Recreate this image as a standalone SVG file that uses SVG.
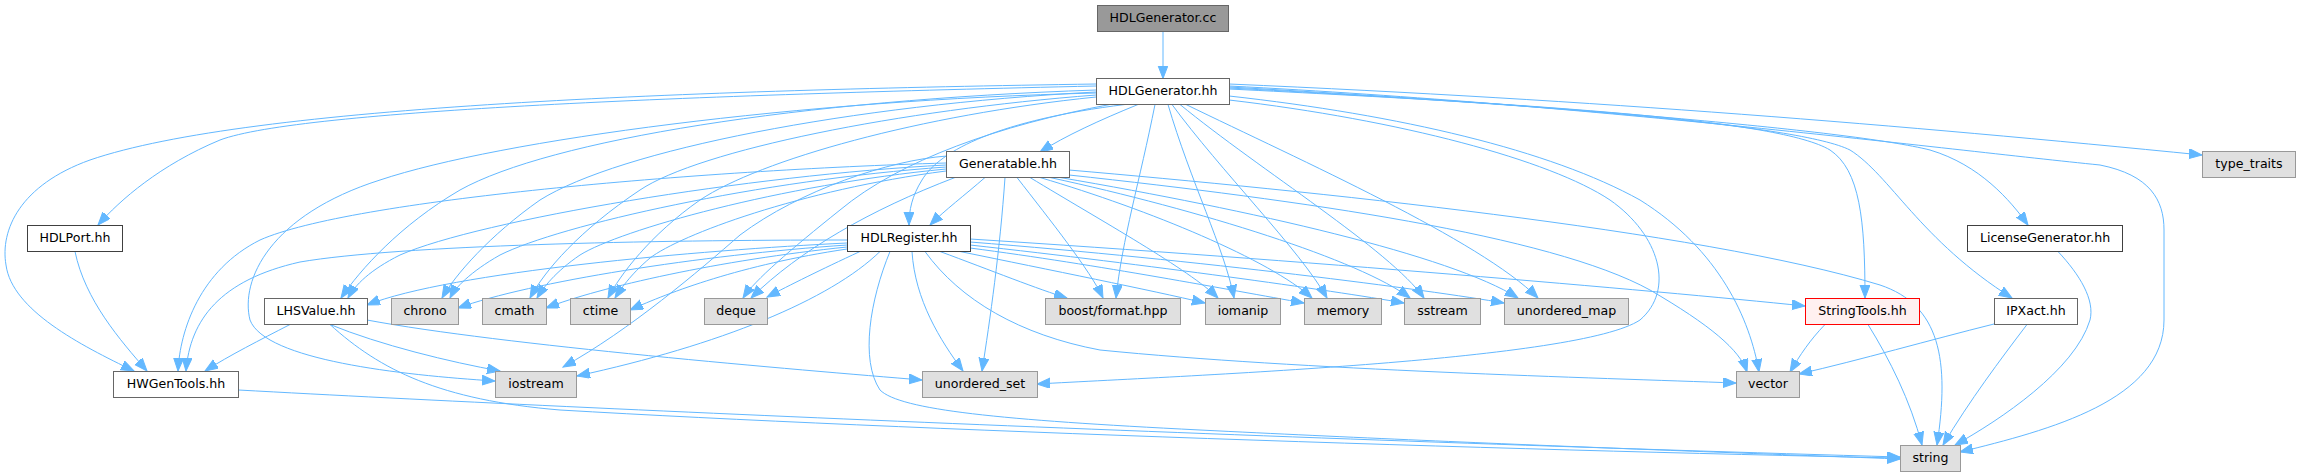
<svg xmlns="http://www.w3.org/2000/svg" width="2301" height="476" viewBox="0 0 2301 476">
<style>
.w{fill:#ffffff;stroke:#666666;stroke-width:1}
.d{fill:#ffffff;stroke:#404040;stroke-width:1}
.g{fill:#e0e0e0;stroke:#999999;stroke-width:1}
.r{fill:#fff0f0;stroke:#ff0000;stroke-width:1}
.root{fill:#999999;stroke:#666666;stroke-width:1}
text{font-family:"DejaVu Sans","Liberation Sans",sans-serif;font-size:12.6px;text-anchor:middle;fill:#000000}
#edges path{fill:none;stroke:#63b8ff;stroke-width:1;marker-end:url(#ah)}
</style>
<defs>
<marker id="ah" markerUnits="userSpaceOnUse" markerWidth="14" markerHeight="11" refX="13" refY="5" orient="auto">
<path d="M0,0 L13,5 L0,10 Z" fill="#63b8ff" stroke="#63b8ff" stroke-width="1"/>
</marker>
</defs>
<rect width="2301" height="476" fill="#ffffff"/>
<g id="edges">
<path d="M1163,31.5 L1163,78.5"/>
<!-- HDLGenerator.hh -->
<path d="M1138,104.5 C1100,120 1065,136 1040,152"/>
<path d="M1125,104.5 C1000,120 940,150 922,180 C912,196 909,210 909,225"/>
<path d="M1096,86 C700,95 300,110 220,140 C160,165 120,200 98,225"/>
<path d="M1096,84 C700,90 250,105 90,160 C20,185 0,230 6,265 C12,310 80,345 134,371"/>
<path d="M1096,90 C800,100 550,140 460,190 C400,225 360,270 341,298"/>
<path d="M1096,92 C850,105 620,150 540,200 C490,235 455,275 442,298"/>
<path d="M1096,95 C900,110 700,150 640,190 C580,230 545,270 530,298"/>
<path d="M1096,97 C920,115 760,160 700,200 C650,235 620,275 608,298"/>
<path d="M1096,93 C800,100 500,140 380,180 C270,215 240,280 250,320 C265,360 400,375 495,381"/>
<path d="M1110,104.5 C1000,125 900,160 840,210 C790,250 755,280 743,298"/>
<path d="M1155,104.5 C1140,180 1122,240 1116,298"/>
<path d="M1168,104.5 C1190,180 1225,250 1234,298"/>
<path d="M1172,104.5 C1220,170 1300,250 1327,298"/>
<path d="M1180,104.5 C1260,170 1390,250 1424,298"/>
<path d="M1186,104.5 C1300,160 1480,240 1538,298"/>
<path d="M1229,84 C1600,100 1900,125 2202,155"/>
<path d="M1229,86 C1600,105 1950,150 2100,165 C2150,175 2164,200 2164,230 L2164,320 C2164,400 2050,430 1960,452"/>
<path d="M1229,87 C1550,105 1850,130 1930,150 C1980,165 2010,200 2028,225"/>
<path d="M1229,88 C1550,105 1800,125 1850,150 C1890,175 1920,240 2012,298"/>
<path d="M1229,89 C1550,105 1780,120 1830,150 C1860,170 1865,220 1865,298"/>
<path d="M1229,100 C1400,120 1550,160 1610,200 C1660,235 1675,290 1640,320 C1580,360 1200,375 1037,384"/>
<path d="M1229,96 C1400,115 1550,150 1640,200 C1720,250 1750,320 1759,372"/>
<!-- Generatable.hh -->
<path d="M985,177.5 C965,195 945,210 930,225"/>
<path d="M946,165 C750,175 480,220 400,255 C370,270 355,285 348,298"/>
<path d="M946,167 C760,180 560,225 500,255 C470,272 455,288 450,298"/>
<path d="M946,169 C780,185 620,230 580,255 C555,272 543,288 537,298"/>
<path d="M946,171 C800,190 680,235 650,258 C630,275 620,290 615,298"/>
<path d="M946,163 C700,170 350,200 260,240 C200,270 180,330 178,371"/>
<path d="M947,156 C890,160 800,190 740,235 C700,270 630,330 563,367"/>
<path d="M955,177.5 C870,210 800,250 751,298"/>
<path d="M1017,177.5 C1050,220 1090,270 1103,298"/>
<path d="M1030,177.5 C1100,220 1190,270 1218,298"/>
<path d="M1040,177.5 C1150,210 1270,260 1312,298"/>
<path d="M1050,177.5 C1200,210 1360,260 1410,298"/>
<path d="M1060,177.5 C1250,210 1450,255 1518,298"/>
<path d="M1005,177.5 C1000,250 990,320 982,371"/>
<path d="M1069,175 C1300,200 1550,235 1650,290 C1710,325 1740,350 1747,372"/>
<path d="M1069,170 C1300,190 1700,230 1880,285 C1940,305 1950,360 1937,445"/>
<!-- HDLRegister.hh -->
<path d="M847,243 C700,250 450,272 367,305"/>
<path d="M847,245 C700,255 530,282 458,308"/>
<path d="M847,247 C720,260 600,287 546,308"/>
<path d="M847,249 C740,265 670,292 630,310"/>
<path d="M847,240 C650,240 400,245 300,262 C220,280 190,320 186,371"/>
<path d="M880,251.5 C830,300 720,345 577,376"/>
<path d="M860,251.5 C820,270 790,285 767,297"/>
<path d="M940,251.5 C990,270 1040,290 1067,298"/>
<path d="M960,251.5 C1050,270 1150,290 1205,303"/>
<path d="M970,248 C1100,265 1230,290 1304,303"/>
<path d="M970,245 C1150,265 1330,290 1404,303"/>
<path d="M970,242 C1200,260 1430,290 1504,303"/>
<path d="M970,239 C1300,260 1650,290 1805,306"/>
<path d="M912,251.5 C915,300 940,340 963,371"/>
<path d="M925,251.5 C960,300 1020,335 1100,350 C1300,370 1600,378 1736,383"/>
<path d="M890,251.5 C870,300 860,360 880,390 C900,410 1000,420 1200,430 C1500,445 1800,455 1900,459"/>
<!-- LHSValue.hh -->
<path d="M290,324.5 C260,340 230,355 205,371"/>
<path d="M330,324.5 C380,345 450,362 500,371"/>
<path d="M367,320 C500,345 800,370 922,380"/>
<path d="M330,324.5 C380,370 440,400 560,410 C900,430 1500,450 1900,458"/>
<!-- others -->
<path d="M75,251.5 C85,300 120,340 147,371"/>
<path d="M238.5,390 C600,410 1300,440 1900,457"/>
<path d="M1825,324.5 C1810,340 1800,355 1790,372"/>
<path d="M1868,324.5 C1890,360 1910,400 1922,445"/>
<path d="M1994,324 C1930,340 1860,360 1799,374"/>
<path d="M2027,324.5 C2000,360 1970,400 1943,445"/>
<path d="M2058,251.5 C2080,275 2095,300 2090,320 C2075,370 2000,420 1955,445"/>
</g>
<g id="n_cc"><rect class="root" x="1097.5" y="5.5" width="131" height="26"/><text x="1163" y="22">HDLGenerator.cc</text></g>
<g id="n_gen"><rect class="w" x="1096.5" y="78.5" width="133" height="26"/><text x="1163" y="95">HDLGenerator.hh</text></g>
<g id="n_genb"><rect class="w" x="946.5" y="151.5" width="123" height="26"/><text x="1008" y="168">Generatable.hh</text></g>
<g id="n_reg"><rect class="d" x="847.5" y="225.5" width="123" height="26"/><text x="909" y="242">HDLRegister.hh</text></g>
<g id="n_port"><rect class="d" x="27.5" y="225.5" width="95" height="26"/><text x="75" y="242">HDLPort.hh</text></g>
<g id="n_lic"><rect class="d" x="1967.5" y="225.5" width="155" height="26"/><text x="2045" y="242">LicenseGenerator.hh</text></g>
<g id="n_tt"><rect class="g" x="2202.5" y="151.5" width="93" height="26"/><text x="2249" y="168">type_traits</text></g>
<g id="n_lhs"><rect class="w" x="264.5" y="298.5" width="103" height="26"/><text x="316" y="315">LHSValue.hh</text></g>
<g id="n_chrono"><rect class="g" x="391.5" y="298.5" width="67" height="26"/><text x="425" y="315">chrono</text></g>
<g id="n_cmath"><rect class="g" x="482.5" y="298.5" width="64" height="26"/><text x="514.5" y="315">cmath</text></g>
<g id="n_ctime"><rect class="g" x="570.5" y="298.5" width="60" height="26"/><text x="600.5" y="315">ctime</text></g>
<g id="n_deque"><rect class="g" x="704.5" y="298.5" width="63" height="26"/><text x="736" y="315">deque</text></g>
<g id="n_boost"><rect class="g" x="1045.5" y="298.5" width="135" height="26"/><text x="1113" y="315">boost/format.hpp</text></g>
<g id="n_iomanip"><rect class="g" x="1205.5" y="298.5" width="75" height="26"/><text x="1243" y="315">iomanip</text></g>
<g id="n_memory"><rect class="g" x="1304.5" y="298.5" width="77" height="26"/><text x="1343" y="315">memory</text></g>
<g id="n_sstream"><rect class="g" x="1404.5" y="298.5" width="76" height="26"/><text x="1442.5" y="315">sstream</text></g>
<g id="n_umap"><rect class="g" x="1504.5" y="298.5" width="124" height="26"/><text x="1566.5" y="315">unordered_map</text></g>
<g id="n_strtools"><rect class="r" x="1805.5" y="298.5" width="114" height="26"/><text x="1862.5" y="315">StringTools.hh</text></g>
<g id="n_ipxact"><rect class="w" x="1994.5" y="298.5" width="83" height="26"/><text x="2036" y="315">IPXact.hh</text></g>
<g id="n_hwgen"><rect class="w" x="113.5" y="371.5" width="125" height="26"/><text x="176" y="388">HWGenTools.hh</text></g>
<g id="n_iostream"><rect class="g" x="495.5" y="371.5" width="81" height="26"/><text x="536" y="388">iostream</text></g>
<g id="n_uset"><rect class="g" x="922.5" y="371.5" width="115" height="26"/><text x="980" y="388">unordered_set</text></g>
<g id="n_vector"><rect class="g" x="1736.5" y="371.5" width="63" height="26"/><text x="1768" y="388">vector</text></g>
<g id="n_string"><rect class="g" x="1900.5" y="445.5" width="60" height="26"/><text x="1930.5" y="462">string</text></g>
</svg>
